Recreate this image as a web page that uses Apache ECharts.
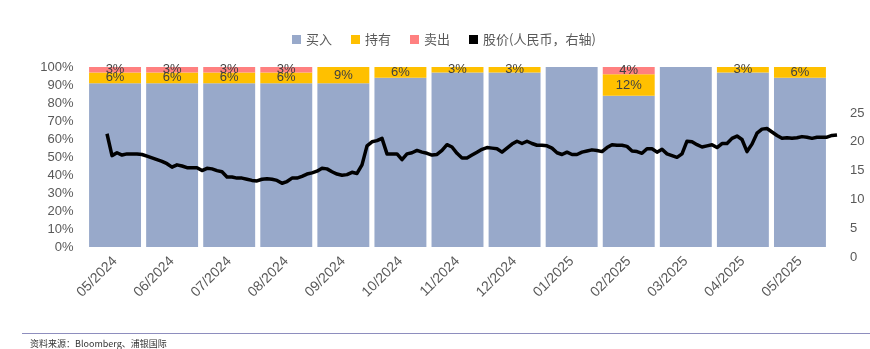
<!DOCTYPE html>
<html>
<head>
<meta charset="utf-8">
<title>评级分布与股价</title>
<script src="https://cdn.jsdelivr.net/npm/echarts@6/dist/echarts.min.js"></script>
<style>
  html, body { margin: 0; padding: 0; background: #ffffff; }
  #chart { width: 870px; height: 349px; }
</style>
</head>
<body>
<div id="chart"></div>
<script>
// Monthly analyst rating mix (%), stacked to 100
const months = ['05/2024', '06/2024', '07/2024', '08/2024', '09/2024', '10/2024', '11/2024',
  '12/2024', '01/2025', '02/2025', '03/2025', '04/2025', '05/2025'];
const buyPct  = [91, 91, 91, 91, 91, 94, 97, 97, 100, 84, 100, 97, 94];
const holdPct = [6, 6, 6, 6, 9, 6, 3, 3, 0, 12, 0, 3, 6];
const sellPct = [3, 3, 3, 3, 0, 0, 0, 0, 0, 4, 0, 0, 0];

// Share price (RMB), sampled at even steps across the period
const price = [
  21.4, 17.6, 18.1, 17.7, 17.9, 17.9, 17.9, 17.8, 17.5, 17.2,
  16.9, 16.6, 16.2, 15.6, 16.0, 15.8, 15.5, 15.5, 15.5, 15.0,
  15.4, 15.3, 15.0, 14.8, 13.9, 13.9, 13.7, 13.7, 13.5, 13.3,
  13.2, 13.5, 13.6, 13.5, 13.3, 12.8, 13.1, 13.7, 13.7, 14.0,
  14.4, 14.6, 14.9, 15.4, 15.3, 14.8, 14.4, 14.2, 14.3, 14.7,
  14.5, 16.0, 19.3, 20.0, 20.2, 20.6, 17.9, 17.9, 17.9, 16.9,
  17.9, 18.1, 18.5, 18.2, 18.0, 17.7, 17.8, 18.5, 19.5, 19.1,
  18.0, 17.2, 17.2, 17.7, 18.2, 18.7, 19.0, 18.9, 18.8, 18.2,
  18.9, 19.6, 20.1, 19.7, 20.1, 19.7, 19.4, 19.4, 19.3, 18.9,
  18.1, 17.8, 18.2, 17.8, 17.8, 18.2, 18.4, 18.6, 18.5, 18.3,
  19.0, 19.5, 19.4, 19.4, 19.2, 18.4, 18.3, 18.0, 18.8, 18.8,
  18.2, 18.7, 17.9, 17.6, 17.3, 17.9, 20.1, 20.0, 19.5, 19.1,
  19.3, 19.5, 19.0, 19.7, 19.7, 20.6, 21.0, 20.4, 18.3, 19.6,
  21.5, 22.2, 22.3, 21.7, 21.1, 20.6, 20.7, 20.6, 20.7, 20.9,
  20.8, 20.6, 20.8, 20.8, 20.8, 21.1, 21.2
];

const pctTicks = { min: 0, max: 100, interval: 10 };
const priceTicks = { min: 0, max: 25, interval: 5 };

const textGray = '#595959';
const latinFont = '"Liberation Sans", "Noto Sans CJK SC", sans-serif';
const cjkFont = '"Noto Sans CJK SC", "Liberation Sans", sans-serif';

const pctLabel = {
  show: true,
  position: 'inside',
  color: '#404040',
  fontSize: 13,
  fontFamily: latinFont,
  formatter: p => (p.value ? p.value + '%' : '')
};

const chart = echarts.init(document.getElementById('chart'), null, { renderer: 'canvas' });

chart.setOption({
  animation: false,
  backgroundColor: '#ffffff',
  textStyle: { fontFamily: latinFont },
  legend: {
    top: 28,
    left: 287,
    itemWidth: 9,
    itemHeight: 9,
    itemGap: 19,
    icon: 'rect',
    textStyle: { color: textGray, fontSize: 13, fontFamily: cjkFont },
    data: ['买入', '持有', '卖出', '股价(人民币，右轴)']
  },
  grid: [
    { left: 86.5, right: 41.5, top: 67, bottom: 102 },
    { left: 107, right: 33, top: 113, bottom: 92 }
  ],
  xAxis: [
    {
      type: 'category',
      gridIndex: 0,
      data: months,
      axisLine: { show: false },
      axisTick: { show: false },
      axisLabel: { rotate: 45, margin: 12, color: textGray, fontSize: 14, fontFamily: latinFont }
    },
    {
      type: 'category',
      gridIndex: 1,
      boundaryGap: false,
      data: price.map((_, i) => i),
      show: false
    }
  ],
  yAxis: [
    {
      type: 'value',
      gridIndex: 0,
      min: pctTicks.min,
      max: pctTicks.max,
      interval: pctTicks.interval,
      axisLine: { show: false },
      axisTick: { show: false },
      splitLine: { show: false },
      axisLabel: { formatter: '{value}%', color: textGray, fontSize: 13, margin: 13 }
    },
    {
      type: 'value',
      gridIndex: 1,
      position: 'right',
      min: priceTicks.min,
      max: priceTicks.max,
      interval: priceTicks.interval,
      axisLine: { show: false },
      axisTick: { show: false },
      splitLine: { show: false },
      axisLabel: { color: textGray, fontSize: 13, margin: 13 }
    }
  ],
  series: [
    {
      name: '买入', type: 'bar', stack: 'rating', xAxisIndex: 0, yAxisIndex: 0,
      data: buyPct, barCategoryGap: '9%',
      itemStyle: { color: '#98A9CA' }
    },
    {
      name: '持有', type: 'bar', stack: 'rating', xAxisIndex: 0, yAxisIndex: 0,
      data: holdPct, itemStyle: { color: '#FFC000' }, label: pctLabel
    },
    {
      name: '卖出', type: 'bar', stack: 'rating', xAxisIndex: 0, yAxisIndex: 0,
      data: sellPct, itemStyle: { color: '#FF8080' }, label: pctLabel
    },
    {
      name: '股价(人民币，右轴)', type: 'line', xAxisIndex: 1, yAxisIndex: 1,
      data: price, symbol: 'none', z: 5,
      itemStyle: { color: '#000000' },
      lineStyle: { color: '#000000', width: 3.5, join: 'round' }
    }
  ],
  graphic: [
    {
      type: 'line',
      shape: { x1: 22, y1: 333.5, x2: 870, y2: 333.5 },
      style: { stroke: '#8E8EBE', lineWidth: 1 }
    },
    {
      type: 'text',
      left: 30, top: 339,
      style: { text: '资料来源：Bloomberg、浦银国际', fill: '#333333', fontSize: 9, fontFamily: cjkFont }
    }
  ]
});
</script>
</body>
</html>
